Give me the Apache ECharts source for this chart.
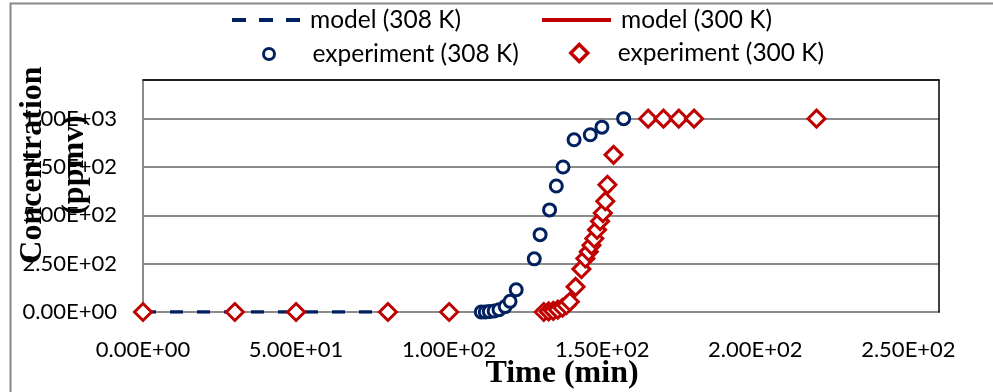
<!DOCTYPE html>
<html>
<head>
<meta charset="utf-8">
<script src="https://cdn.jsdelivr.net/npm/echarts@6/dist/echarts.min.js"></script>
<style>
html,body{margin:0;padding:0;background:#fff;}
#chart{width:993px;height:392px;}
</style>
</head>
<body>
<div id="chart"></div>
<script>
// ---- data ----
const seriesNames = ['model (308 K)', 'model (300 K)', 'experiment (308 K)', 'experiment (300 K)'];
const model308 = [[0, 0], [80, 0]];
const model300 = [];
const exp308 = [
  [110.5, 0], [111.8, 0], [113.1, 2], [114.7, 5], [116.3, 12], [118.3, 28], [119.9, 55],
  [121.9, 115], [127.8, 275], [129.7, 400], [132.8, 528], [135.0, 652], [137.2, 750],
  [140.8, 891], [146.1, 917], [149.9, 956], [157.0, 1000]
];
const exp300 = [
  [0, 0], [30, 0], [50, 0], [80, 0], [100, 0],
  [130.9, 0], [132.5, 3], [134.0, 6], [135.5, 12], [137.0, 22], [138.3, 35], [139.4, 53],
  [141.3, 130], [143.2, 222], [144.5, 277], [145.6, 311], [146.5, 345], [147.4, 380],
  [148.3, 425], [149.3, 470], [150.2, 512], [151.0, 573], [151.7, 658], [153.7, 813],
  [165, 1000], [170, 1000], [175, 1000], [180, 1000], [220, 1000]
];
const xTickValues = [0, 50, 100, 150, 200, 250];
const yTickValues = [0, 250, 500, 750, 1000];
const xTitle = 'Time (min)';
const yTitle = 'Concentration\n(ppmv)';

function sci(v) {
  const s = Number(v).toExponential(2);
  const parts = s.split('e');
  const sign = parts[1][0] === '-' ? '-' : '+';
  let ex = parts[1].replace(/^[+-]/, '');
  if (ex.length < 2) ex = '0' + ex;
  return parts[0] + 'E' + sign + ex;
}

const NAVY = '#002060';
const RED = '#C00000';
const GRIDGRAY = '#8c8c8c';
const FONT = 'Lato';

const chart = echarts.init(document.getElementById('chart'), null, {renderer: 'canvas'});

function legendAt(name, left, top, w, h, padLeft, extra) {
  const lg = {
    data: [name], left: left, top: top, itemWidth: w, itemHeight: h,
    padding: 0, selectedMode: false, symbolKeepAspect: true,
    textStyle: {fontFamily: FONT, fontSize: 24.5, color: '#000', lineHeight: 26, padding: [0, 0, 0, padLeft]}
  };
  return Object.assign(lg, extra);
}

const option = {
  animation: false,
  backgroundColor: '#fff',
  grid: {left: 143, right: 54, top: 80, bottom: 80, show: false},
  legend: [
    legendAt(seriesNames[0], 230, 7, 68, 14, 5, {
      itemStyle: {opacity: 0},
      lineStyle: {color: NAVY, width: 4, type: [14, 13]}
    }),
    legendAt(seriesNames[1], 540, 7, 69, 14, 5, {
      itemStyle: {opacity: 0},
      lineStyle: {color: RED, width: 4, type: 'solid'}
    }),
    legendAt(seriesNames[2], 262, 41, 11, 11, 33, {
      itemStyle: {color: '#fff', borderColor: NAVY, borderWidth: 3}
    }),
    legendAt(seriesNames[3], 569, 40, 17, 17, 25, {
      itemStyle: {color: '#fff', borderColor: RED, borderWidth: 3.5}
    })
  ],
  xAxis: [{
    type: 'value', min: 0, max: 260, interval: 50,
    axisLine: {show: true, onZero: false, lineStyle: {color: GRIDGRAY, width: 2}},
    axisTick: {show: false},
    splitLine: {show: false},
    axisLabel: {
      showMaxLabel: false, margin: 27, color: '#000',
      fontFamily: FONT, fontSize: 22,
      formatter: function (v) { return xTickValues.indexOf(v) >= 0 ? sci(v) : ''; }
    }
  }, {
    type: 'value', min: 0, max: 260, position: 'top', z: 5,
    axisLine: {show: true, onZero: false, lineStyle: {color: '#000', width: 1.5}},
    axisTick: {show: false}, axisLabel: {show: false}, splitLine: {show: false}
  }],
  yAxis: [{
    type: 'value', min: 0, max: 1200, interval: 250,
    axisLine: {show: true, onZero: false, lineStyle: {color: GRIDGRAY, width: 2}},
    axisTick: {show: false},
    splitLine: {show: true, lineStyle: {color: GRIDGRAY, width: 2}},
    axisLabel: {
      showMaxLabel: false, margin: 26, color: '#000',
      fontFamily: FONT, fontSize: 22,
      formatter: function (v) { return yTickValues.indexOf(v) >= 0 ? sci(v) : ''; }
    }
  }, {
    type: 'value', min: 0, max: 1200, position: 'right', z: 5,
    axisLine: {show: true, onZero: false, lineStyle: {color: '#000', width: 1.5}},
    axisTick: {show: false}, axisLabel: {show: false}, splitLine: {show: false}
  }],
  series: [{
    name: seriesNames[1], type: 'line', data: model300, symbol: 'none',
    lineStyle: {color: RED, width: 3}, itemStyle: {color: RED}
  }, {
    name: seriesNames[0], type: 'line', data: model308, symbol: 'none', z: 3,
    lineStyle: {color: NAVY, width: 3.5, type: [13, 14]}, itemStyle: {color: NAVY}
  }, {
    name: seriesNames[2], type: 'scatter', data: exp308, symbol: 'circle', symbolSize: 12, z: 4,
    itemStyle: {color: '#fff', borderColor: NAVY, borderWidth: 3, opacity: 1}
  }, {
    name: seriesNames[3], type: 'scatter', data: exp300, symbol: 'diamond', symbolSize: 17, z: 5,
    itemStyle: {color: '#fff', borderColor: RED, borderWidth: 3, opacity: 1}
  }],
  graphic: [{
    type: 'rect', left: 8, top: 1, silent: true, z: 0,
    shape: {x: 0, y: 0, width: 1100, height: 500},
    style: {fill: 'none', stroke: '#888', lineWidth: 2}
  }, {
    type: 'text', x: 562, y: 374, silent: true,
    style: {text: xTitle, font: 'bold 32px "Liberation Serif"', fill: '#000', textAlign: 'center', textVerticalAlign: 'middle'}
  }, {
    type: 'text', x: 54, y: 165, rotation: Math.PI / 2, silent: true,
    style: {text: yTitle, font: 'bold 32px "Liberation Serif"', lineHeight: 42, fill: '#000', textAlign: 'center', textVerticalAlign: 'middle'}
  }]
};
chart.setOption(option);
</script>
</body>
</html>
